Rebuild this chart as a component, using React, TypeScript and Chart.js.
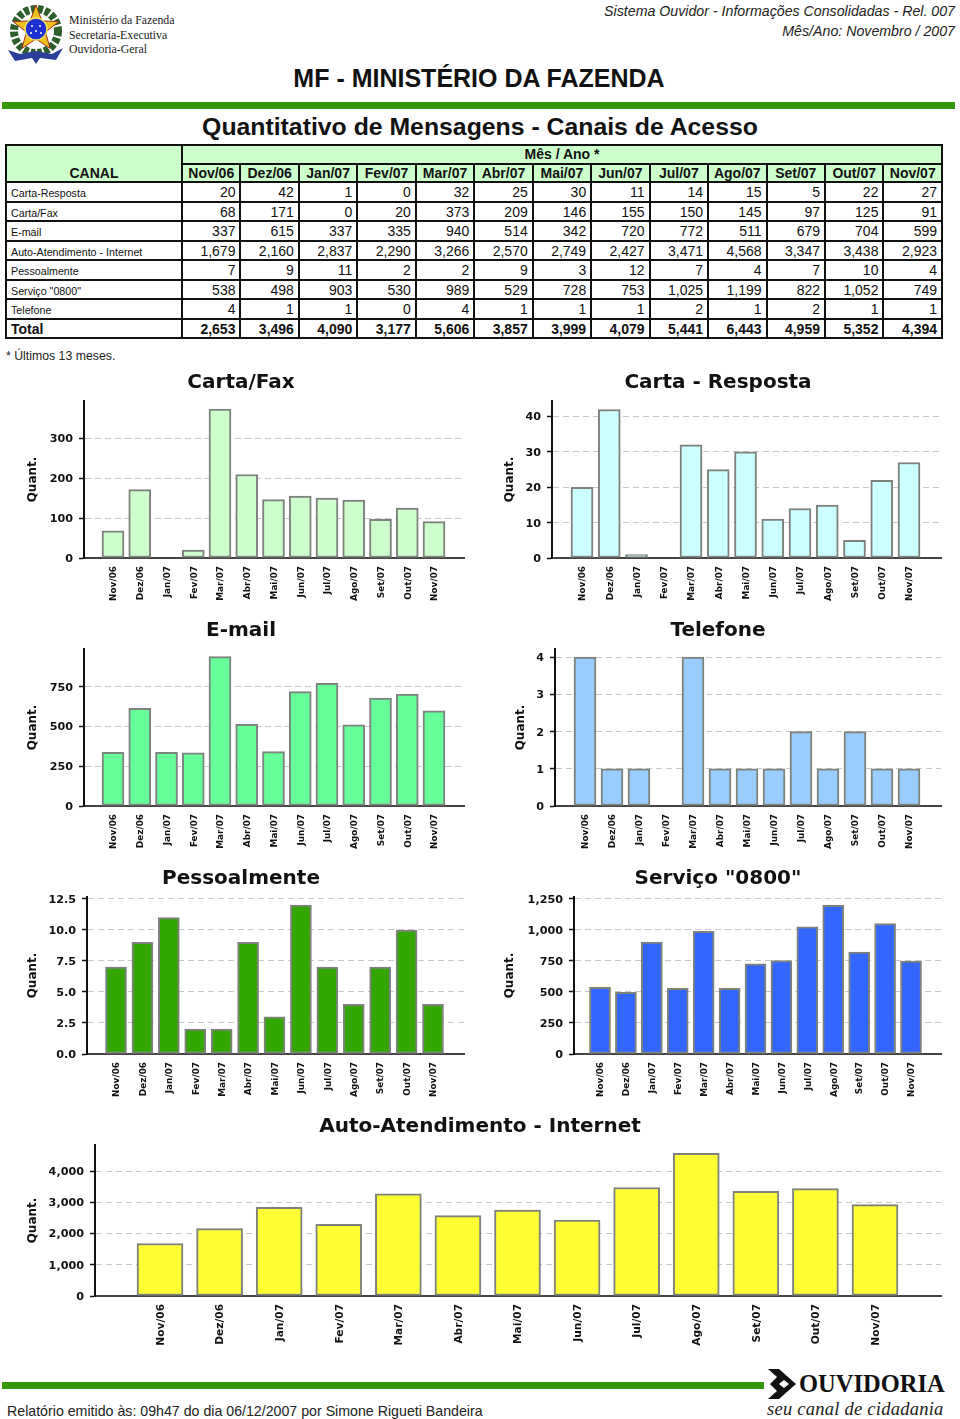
import React, { useEffect, useRef } from "react";
import { Chart, registerables } from "chart.js";

Chart.register(...registerables);

const months = ["Nov/06", "Dez/06", "Jan/07", "Fev/07", "Mar/07", "Abr/07", "Mai/07", "Jun/07", "Jul/07", "Ago/07", "Set/07", "Out/07", "Nov/07"];
const cartaResposta = [20, 42, 1, 0, 32, 25, 30, 11, 14, 15, 5, 22, 27];
const cartaFax = [68, 171, 0, 20, 373, 209, 146, 155, 150, 145, 97, 125, 91];
const email = [337, 615, 337, 335, 940, 514, 342, 720, 772, 511, 679, 704, 599];
const autoAtendimento = [1679, 2160, 2837, 2290, 3266, 2570, 2749, 2427, 3471, 4568, 3347, 3438, 2923];
const pessoalmente = [7, 9, 11, 2, 2, 9, 3, 12, 7, 4, 7, 10, 4];
const servico0800 = [538, 498, 903, 530, 989, 529, 728, 753, 1025, 1199, 822, 1052, 749];
const telefone = [4, 1, 1, 0, 4, 1, 1, 1, 2, 1, 2, 1, 1];
const total = [2653, 3496, 4090, 3177, 5606, 3857, 3999, 4079, 5441, 6443, 4959, 5352, 4394];

const tableRows: [string, number[]][] = [
  ["Carta-Resposta", cartaResposta],
  ["Carta/Fax", cartaFax],
  ["E-mail", email],
  ["Auto-Atendimento - Internet", autoAtendimento],
  ["Pessoalmente", pessoalmente],
  ['Serviço "0800"', servico0800],
  ["Telefone", telefone],
];

type Spec = {
  title: string; values: number[]; color: string;
  left: number; top: number; width: number; height: number;
  axisX: number; plotRight: number; plotTop: number; baseline: number; titleX: number; titleY: number;
  firstX: number; lastX: number; barW: number;
  yMax: number; step: number; quantX: number;
  tickSize: number; xSize: number; decimals?: number;
};

const specs: Spec[] = [
  { title: "Carta/Fax", values: cartaFax, color: "#ccffcc", left: 0, top: 360, width: 482, height: 245, axisX: 84, plotRight: 464, plotTop: 401, baseline: 558, titleX: 241, titleY: 383, firstX: 113, lastX: 434, barW: 22, yMax: 393, step: 100, quantX: 33, tickSize: 11.2, xSize: 8.9 },
  { title: "Carta - Resposta", values: cartaResposta, color: "#ccffff", left: 478, top: 360, width: 480, height: 245, axisX: 552, plotRight: 941, plotTop: 401, baseline: 558, titleX: 718, titleY: 383, firstX: 582, lastX: 909, barW: 22, yMax: 44.4, step: 10, quantX: 510, tickSize: 11.2, xSize: 8.9 },
  { title: "E-mail", values: email, color: "#66ff99", left: 0, top: 608, width: 482, height: 245, axisX: 84, plotRight: 464, plotTop: 649, baseline: 806, titleX: 241, titleY: 631, firstX: 113, lastX: 434, barW: 22, yMax: 988, step: 250, quantX: 33, tickSize: 11.2, xSize: 8.9 },
  { title: "Telefone", values: telefone, color: "#99ccff", left: 478, top: 608, width: 480, height: 245, axisX: 555, plotRight: 941, plotTop: 649, baseline: 806, titleX: 718, titleY: 631, firstX: 585, lastX: 909, barW: 22, yMax: 4.22, step: 1, quantX: 521, tickSize: 11.2, xSize: 8.9 },
  { title: "Pessoalmente", values: pessoalmente, color: "#33a600", left: 0, top: 856, width: 482, height: 245, axisX: 87, plotRight: 464, plotTop: 897, baseline: 1054, titleX: 241, titleY: 879, firstX: 116, lastX: 433, barW: 21, yMax: 12.66, step: 2.5, quantX: 33, tickSize: 11.2, xSize: 8.9, decimals: 1 },
  { title: 'Serviço "0800"', values: servico0800, color: "#3366ff", left: 478, top: 856, width: 480, height: 245, axisX: 574, plotRight: 941, plotTop: 897, baseline: 1054, titleX: 718, titleY: 879, firstX: 600, lastX: 911, barW: 21, yMax: 1266, step: 250, quantX: 510, tickSize: 11.2, xSize: 8.9 },
  { title: "Auto-Atendimento - Internet", values: autoAtendimento, color: "#ffff33", left: 0, top: 1104, width: 960, height: 245, axisX: 95, plotRight: 941, plotTop: 1145, baseline: 1296, titleX: 480, titleY: 1127, firstX: 160, lastX: 875, barW: 46, yMax: 4832, step: 1000, quantX: 33, tickSize: 11.2, xSize: 10.6 },
];

const FONT = "'DejaVu Sans'";

function BarChart({ spec }: { spec: Spec }) {
  const ref = useRef<HTMLCanvasElement>(null);
  useEffect(() => {
    if (!ref.current) return;
    const pitch = (spec.lastX - spec.firstX) / (months.length - 1);
    const titleLine = 24;
    const padL = 2 * (spec.titleX - spec.left) - (spec.plotRight - spec.left);
    const chart = new Chart(ref.current, {
      type: "bar",
      data: {
        labels: months,
        datasets: [{
          data: spec.values.map((v, i) => ({ x: i, y: v })),
          backgroundColor: spec.color,
          borderColor: "#7d827d",
          borderWidth: 2,
          borderSkipped: false,
          barThickness: spec.barW,
        }],
      },
      options: {
        responsive: false,
        animation: false,
        layout: { padding: { left: padL, top: 0, bottom: 0, right: spec.left + spec.width - spec.plotRight } },
        plugins: {
          legend: { display: false },
          tooltip: { enabled: false },
          title: {
            display: true,
            text: spec.title,
            color: "#111",
            font: { family: FONT, weight: "bold", size: 20, lineHeight: titleLine / 20 },
            padding: { top: spec.titleY - spec.top - titleLine / 2, bottom: spec.plotTop - spec.titleY - titleLine / 2 },
          },
        },
        scales: {
          x: {
            type: "linear",
            offset: false,
            min: -(spec.firstX - spec.axisX) / pitch,
            max: months.length - 1 + (spec.plotRight - spec.lastX) / pitch,
            grid: { display: false, offset: false, tickLength: 0 },
            border: { display: true, color: "#444", width: 2 },
            afterFit: (s: any) => { s.height = spec.top + spec.height - spec.baseline; },
            ticks: {
              stepSize: 1,
              includeBounds: false,
              autoSkip: false,
              minRotation: 90,
              maxRotation: 90,
              padding: 8,
              labelOffset: 1,
              color: "#111",
              font: { family: FONT, weight: "bold", size: spec.xSize },
              callback: (v: any) => months[v as number] ?? "",
            },
          },
          y: {
            min: 0,
            max: spec.yMax,
            afterFit: (s: any) => { s.width = spec.axisX - spec.left - padL; },
            afterBuildTicks: (s: any) => {
              const out: { value: number }[] = [];
              for (let k = 0; k * spec.step <= spec.yMax; k++) out.push({ value: k * spec.step });
              s.ticks = out;
            },
            grid: { color: "#c8c8c8", tickColor: "#111", tickLength: 5, tickBorderDash: [], tickWidth: 1.5 },
            border: { display: true, color: "#111", width: 2, dash: [6, 4] },
            title: {
              display: true,
              text: "Quant.",
              color: "#111",
              font: { family: FONT, weight: "bold", size: 12, lineHeight: 1.2 },
              padding: { top: spec.quantX - spec.left - padL - 7.2, bottom: 0 },
            },
            ticks: {
              padding: 6,
              labelOffset: 1,
              color: "#111",
              font: { family: FONT, weight: "bold", size: spec.tickSize },
              callback: (v: any) => Number(v).toLocaleString("en-US", { minimumFractionDigits: spec.decimals ?? 0, maximumFractionDigits: spec.decimals ?? 0 }),
            },
          },
        },
      } as any,
    });
    return () => chart.destroy();
  }, [spec]);
  return <canvas ref={ref} width={spec.width} height={spec.height} style={{ position: "absolute", left: spec.left, top: spec.top, width: spec.width, height: spec.height }} />;
}

const ARIAL = "'Liberation Sans', Arial, sans-serif";
const SERIF = "'Liberation Serif', serif";

function abs(left: number, top: number, extra: React.CSSProperties = {}): React.CSSProperties {
  return { position: "absolute", left, top, whiteSpace: "nowrap", ...extra };
}

function Emblem() {
  const star = Array.from({ length: 10 }, (_, i) => {
    const r = i % 2 === 0 ? 24 : 10;
    const a = -Math.PI / 2 + (i * Math.PI) / 5;
    return `${36 + r * Math.cos(a)},${29 + r * Math.sin(a)}`;
  }).join(" ");
  return (
    <svg style={{ position: "absolute", left: 0, top: 0 }} width={70} height={68}>
      <circle cx={36} cy={31} r={22} fill="none" stroke="#2c5f2a" strokeWidth={8} strokeDasharray="5 2" />
      <path d="M8 50 L20 54 L36 51 L52 54 L63 48 L56 60 L40 58 L36 64 L32 58 L15 61 Z" fill="#2a3f9a" />
      <polygon points={star} fill="#f0c020" stroke="#a03020" strokeWidth={1} />
      <circle cx={36} cy={29} r={11} fill="#1f2fd0" stroke="#f0e060" strokeWidth={1.5} />
      <circle cx={32} cy={26} r={1} fill="#fff" /><circle cx={40} cy={26} r={1} fill="#fff" />
      <circle cx={36} cy={31} r={1} fill="#fff" /><circle cx={31} cy={33} r={1} fill="#fff" />
      <circle cx={41} cy={33} r={1} fill="#fff" />
    </svg>
  );
}

function App() {
  const bd = "2px solid #111";
  const num: React.CSSProperties = { border: bd, textAlign: "right", padding: "2px 4px 0 0", fontSize: 14, lineHeight: "15px", overflow: "hidden", boxSizing: "border-box" };
  const head: React.CSSProperties = { border: bd, background: "#ccffcc", fontWeight: "bold", fontSize: 14, textAlign: "center", padding: 0, lineHeight: "15px", boxSizing: "border-box" };
  return (
    <div style={{ position: "absolute", left: 0, top: 0, width: 960, height: 1419, overflow: "hidden", background: "#fff", fontFamily: ARIAL, color: "#111" }}>
      <Emblem />
      <div style={abs(69, 13, { fontFamily: SERIF, fontSize: 11.8, lineHeight: "14.6px", color: "#222" })}>
        Ministério da Fazenda<br />Secretaria-Executiva<br />Ouvidoria-Geral
      </div>
      <div style={{ position: "absolute", right: 5, top: 2, textAlign: "right", fontStyle: "italic", fontSize: 14.2, lineHeight: "19.5px", color: "#222" }}>
        Sistema Ouvidor - Informações Consolidadas - Rel. 007<br />Mês/Ano: Novembro / 2007
      </div>
      <div style={{ position: "absolute", left: 0, width: 958, top: 63, textAlign: "center", fontWeight: "bold", fontSize: 25, lineHeight: "30px" }}>MF - MINISTÉRIO DA FAZENDA</div>
      <div style={{ position: "absolute", left: 2, top: 102, width: 953, height: 7, background: "#339908" }} />
      <div style={{ position: "absolute", left: 0, width: 960, top: 112, textAlign: "center", fontWeight: "bold", fontSize: 24.8, lineHeight: "30px" }}>Quantitativo de Mensagens - Canais de Acesso</div>

      <table style={{ position: "absolute", left: 5, top: 144, width: 937, borderCollapse: "collapse", tableLayout: "fixed", fontFamily: ARIAL }}>
        <colgroup>
          <col style={{ width: 176 }} />
          {months.map((m) => <col key={m} style={{ width: 58.46 }} />)}
        </colgroup>
        <tbody>
          <tr style={{ height: 19 }}>
            <td rowSpan={2} style={{ ...head, verticalAlign: "bottom" }}>CANAL</td>
            <td colSpan={13} style={head}>Mês / Ano *</td>
          </tr>
          <tr style={{ height: 18 }}>
            {months.map((m) => <td key={m} style={head}>{m}</td>)}
          </tr>
          {tableRows.map(([name, vals]) => (
            <tr key={name} style={{ height: 19.5 }}>
              <td style={{ ...num, textAlign: "left", fontSize: 10.7, lineHeight: "14px", padding: "3px 0 0 4px" }}>{name}</td>
              {vals.map((v, i) => <td key={i} style={num}>{v.toLocaleString("en-US")}</td>)}
            </tr>
          ))}
          <tr style={{ height: 19.5 }}>
            <td style={{ ...num, textAlign: "left", fontWeight: "bold", padding: "2px 0 0 4px" }}>Total</td>
            {total.map((v, i) => <td key={i} style={{ ...num, fontWeight: "bold" }}>{v.toLocaleString("en-US")}</td>)}
          </tr>
        </tbody>
      </table>
      <div style={abs(6, 349, { fontSize: 12.3, color: "#222" })}>* Últimos 13 meses.</div>

      {specs.map((s) => <BarChart key={s.title} spec={s} />)}

      <div style={{ position: "absolute", left: 2, top: 1382, width: 762, height: 7, background: "#339908" }} />
      <div style={abs(7, 1403, { fontSize: 14.2, color: "#222" })}>Relatório emitido às: 09h47 do dia 06/12/2007 por Simone Rigueti Bandeira</div>
      <svg style={{ position: "absolute", left: 766, top: 1367 }} width={32} height={34}>
        <path d="M2 2 L13 2 L30 17 L13 32 L2 32 L11 24 L4 17 L11 10 Z" fill="#111" />
        <path d="M13 17 L18 13 L23 17 L18 21 Z" fill="#fff" />
      </svg>
      <div style={abs(799, 1369, { fontFamily: SERIF, fontWeight: "bold", fontSize: 25, lineHeight: "30px", color: "#111", transform: "scaleX(0.98)", transformOrigin: "left" })}>OUVIDORIA</div>
      <div style={abs(767, 1397, { fontFamily: SERIF, fontStyle: "italic", fontSize: 18.5, lineHeight: "24px", color: "#222", letterSpacing: 0.25 })}>seu canal de cidadania</div>
    </div>
  );
}

export default App;
